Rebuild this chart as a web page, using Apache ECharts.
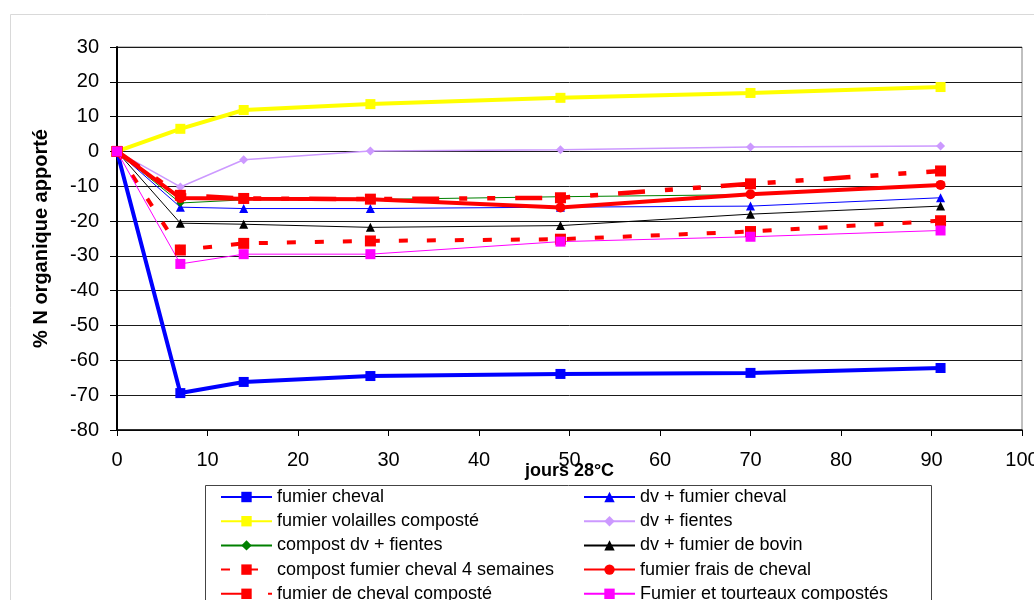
<!DOCTYPE html>
<html>
<head>
<meta charset="utf-8">
<script src="https://cdn.jsdelivr.net/npm/echarts@6/dist/echarts.min.js"></script>
<style>
  html, body { margin: 0; padding: 0; background: #fff; }
  #chart { width: 1034px; height: 600px; }
</style>
</head>
<body>
<div id="chart"></div>
<script>
// Incubation days (x axis)
const days = [0, 7, 14, 28, 49, 70, 91];

// % of organic N supplied, per amendment
const fumierCheval      = [0, -69.4, -66.2, -64.5, -63.9, -63.6, -62.2];
const dvFumierCheval    = [0, -16.0, -16.4, -16.4, -16.0, -15.7, -13.3];
const volaillesComposte = [0, 6.5, 11.9, 13.6, 15.4, 16.8, 18.5];
const dvFientes         = [0, -10.2, -2.4, 0.1, 0.5, 1.3, 1.6];
const compostDvFientes  = [0, -14.8, -13.9, -13.8, -13.0, -12.4, -9.8];
const dvFumierBovin     = [0, -20.6, -20.9, -21.8, -21.3, -18.0, -15.7];
const compost4Semaines  = [0, -28.3, -26.4, -25.7, -25.2, -23.0, -19.9];
const fumierFrais       = [0, -13.4, -13.6, -13.7, -16.1, -12.3, -9.6];
const chevalComposte    = [0, -12.6, -13.5, -13.7, -13.3, -9.3, -5.6];
const tourteauxComposte = [0, -32.3, -29.5, -29.5, -25.9, -24.5, -22.7];

// Series names
const names = [
  'fumier cheval',
  'dv + fumier cheval',
  'fumier volailles composté',
  'dv + fientes',
  'compost dv + fientes',
  'dv + fumier de bovin',
  'compost fumier cheval 4 semaines',
  'fumier frais de cheval',
  'fumier de cheval composté',
  'Fumier et tourteaux compostés'
];

// Axis ranges
const xMin = 0, xMax = 100, xStep = 10;
const yMin = -80, yMax = 30, yStep = 10;

const FONT = '"Liberation Sans", Arial, sans-serif';

function pairs(values) {
  return days.map((d, i) => [d, values[i]]);
}

function line(name, values, color, width, symbol, size, type) {
  return {
    name: name,
    type: 'line',
    data: pairs(values),
    symbol: symbol,
    symbolSize: size,
    showSymbol: true,
    lineStyle: { color: color, width: width, type: type || 'solid' },
    itemStyle: { color: color, borderWidth: 0 },
    emphasis: { disabled: true },
    animation: false
  };
}

const series = [
  line(names[0], fumierCheval, '#0000FF', 4, 'rect', 10),
  line(names[1], dvFumierCheval, '#0000FF', 1, 'triangle', 9),
  line(names[2], volaillesComposte, '#FFFF00', 4, 'rect', 10),
  line(names[3], dvFientes, '#CC99FF', 1.5, 'diamond', 9),
  line(names[4], compostDvFientes, '#008000', 1, 'diamond', 8),
  line(names[5], dvFumierBovin, '#000000', 1, 'triangle', 9),
  line(names[6], compost4Semaines, '#FF0000', 4, 'rect', 11, [9, 19]),
  line(names[7], fumierFrais, '#FF0000', 4, 'circle', 10),
  line(names[8], chevalComposte, '#FF0000', 4.5, 'rect', 11, [27, 20, 8, 20, 8, 20]),
  line(names[9], tourteauxComposte, '#FF00FF', 1, 'rect', 10)
];

// Legend: two columns of five rows, one single-item legend per entry
const leftColumn = [0, 2, 4, 6, 8];
const rightColumn = [1, 3, 5, 7, 9];
const rowTop = 488, rowStep = 24.2;

function legendItem(idx, left, row) {
  return {
    orient: 'horizontal',
    left: left,
    top: rowTop + row * rowStep,
    itemWidth: 51,
    itemHeight: 13,
    padding: 0,
    selectedMode: false,
    data: [names[idx]],
    textStyle: { fontFamily: FONT, fontSize: 18, color: '#000', lineHeight: 17 }
  };
}

const legends = [];
leftColumn.forEach((idx, row) => legends.push(legendItem(idx, 220, row)));
rightColumn.forEach((idx, row) => legends.push(legendItem(idx, 583, row)));

const chart = echarts.init(document.getElementById('chart'), null, { renderer: 'canvas' });

chart.setOption({
  backgroundColor: '#fff',
  animation: false,
  graphic: [
    { type: 'rect', shape: { x: 10.5, y: 14.5, width: 1100, height: 700 },
      style: { fill: 'none', stroke: '#d9d9d9', lineWidth: 1 }, z: -10 },
    { type: 'rect', shape: { x: 205.5, y: 485.5, width: 726, height: 200 },
      style: { fill: '#fff', stroke: '#444', lineWidth: 1 }, z: -5 }
  ],
  grid: {
    left: 117, right: 12, top: 47, bottom: 170,
    outerBoundsMode: 'none',
    containLabel: false,
    show: true, borderColor: '#808080', borderWidth: 1, backgroundColor: 'transparent'
  },
  legend: legends,
  xAxis: {
    type: 'value',
    min: xMin, max: xMax, interval: xStep,
    name: 'jours 28°C',
    nameLocation: 'middle',
    nameGap: 32,
    nameMoveOverlap: false,
    nameTextStyle: { fontFamily: FONT, fontSize: 18, fontWeight: 'bold', color: '#000' },
    axisLine: { show: true, onZero: false, lineStyle: { color: '#000', width: 1.5 } },
    axisTick: { show: true, length: 6, lineStyle: { color: '#000' } },
    axisLabel: { fontFamily: FONT, fontSize: 20, color: '#000', margin: 20, hideOverlap: false },
    splitLine: { show: false }
  },
  yAxis: {
    type: 'value',
    min: yMin, max: yMax, interval: yStep,
    name: '% N organique apporté',
    nameLocation: 'middle',
    nameRotate: 90,
    nameGap: 66,
    nameMoveOverlap: false,
    nameTextStyle: { fontFamily: FONT, fontSize: 20, fontWeight: 'bold', color: '#000' },
    axisLine: { show: true, onZero: false, lineStyle: { color: '#000', width: 2 } },
    axisTick: { show: true, length: 7, lineStyle: { color: '#000' } },
    axisLabel: { fontFamily: FONT, fontSize: 20, color: '#000', margin: 18 },
    splitLine: { show: true, lineStyle: { color: '#1a1a1a', width: 1 } }
  },
  series: series
});
</script>
</body>
</html>
